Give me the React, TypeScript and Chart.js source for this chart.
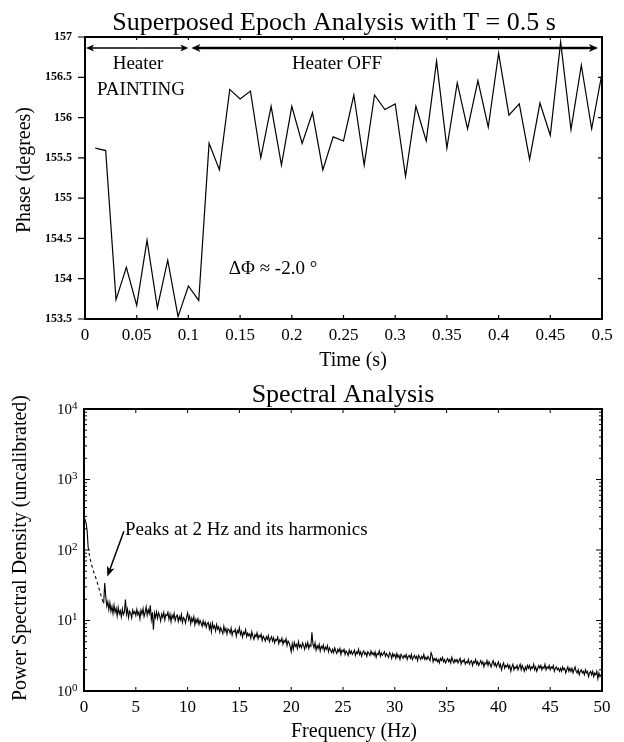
import React, { useEffect, useRef } from "react";
import { Chart, registerables } from "chart.js";

Chart.register(...registerables);

const FONT = "'Liberation Serif', 'Times New Roman', Times, serif";

// ---------- Top chart: superposed epoch analysis ----------
const TIME_S = [
  0.01, 0.02, 0.03, 0.04, 0.05, 0.06, 0.07, 0.08, 0.09, 0.1,
  0.11, 0.12, 0.13, 0.14, 0.15, 0.16, 0.17, 0.18, 0.19, 0.2,
  0.21, 0.22, 0.23, 0.24, 0.25, 0.26, 0.27, 0.28, 0.29, 0.3,
  0.31, 0.32, 0.33, 0.34, 0.35, 0.36, 0.37, 0.38, 0.39, 0.4,
  0.41, 0.42, 0.43, 0.44, 0.45, 0.46, 0.47, 0.48, 0.49, 0.5,
];
const PHASE_DEG = [
  155.62, 155.59, 153.74, 154.14, 153.67, 154.48, 153.64, 154.23, 153.53, 153.91,
  153.73, 155.68, 155.35, 156.35, 156.23, 156.33, 155.5, 156.14, 155.41, 156.14,
  155.68, 156.06, 155.35, 155.76, 155.71, 156.28, 155.41, 156.28, 156.1, 156.17,
  155.27, 156.14, 155.71, 156.7, 155.62, 156.43, 155.86, 156.46, 155.88, 156.8,
  156.03, 156.17, 155.48, 156.18, 155.78, 156.94, 155.85, 156.65, 155.86, 156.55,
];
const TIME_TICKS = [0, 0.05, 0.1, 0.15, 0.2, 0.25, 0.3, 0.35, 0.4, 0.45, 0.5];
const TIME_TICK_LABELS = ["0", "0.05", "0.1", "0.15", "0.2", "0.25", "0.3", "0.35", "0.4", "0.45", "0.5"];
const PHASE_TICKS = [153.5, 154, 154.5, 155, 155.5, 156, 156.5, 157];
const PHASE_TICK_LABELS = ["153.5", "154", "154.5", "155", "155.5", "156", "156.5", "157"];
const HEATER_ON_END_S = 0.1;

// ---------- Bottom chart: spectral analysis (0.1 Hz bins, 0 to 50 Hz) ----------
const FREQ_STEP_HZ = 0.1;
const PSD = [
  280, 270, 240, 190, 110, 88, 74, 64, 57, 51,
  46, 42, 38, 34, 30, 27, 24, 21, 19, 17.5,
  34, 22, 16, 18.5, 14.2, 17.8, 13.5, 15.9, 12.6, 16.4,
  13.1, 14.9, 11.6, 15.3, 12.4, 13.8, 11.2, 14.6, 12.1, 13.3,
  19.8, 12.2, 14.5, 11.0, 13.6, 12.8, 10.9, 14.1, 12.5, 13.4,
  11.8, 14.4, 12.0, 13.2, 10.6, 13.9, 12.3, 14.8, 11.4, 13.0,
  15.6, 11.9, 14.2, 12.5, 16.4, 10.3, 13.1, 7.4, 12.8, 11.0,
  13.3, 10.7, 12.9, 11.6, 9.8, 12.4, 11.1, 13.0, 10.2, 12.1,
  11.7, 13.1, 10.4, 12.3, 9.6, 11.9, 10.8, 12.6, 10.0, 11.4,
  12.0, 9.7, 11.3, 10.1, 12.2, 9.4, 11.0, 10.5, 9.2, 11.1,
  12.8, 10.2, 11.5, 9.0, 10.8, 9.7, 11.3, 8.7, 10.4, 9.3,
  10.6, 8.8, 10.0, 9.2, 8.3, 9.9, 8.6, 9.5, 8.0, 9.1,
  9.4, 7.6, 8.9, 6.9, 9.2, 7.8, 8.4, 7.1, 8.8, 7.5,
  8.1, 6.8, 7.9, 7.2, 6.5, 8.3, 7.0, 7.7, 6.4, 7.6,
  7.3, 6.6, 7.8, 6.2, 7.1, 6.9, 7.5, 6.0, 7.2, 6.7,
  7.9, 6.3, 7.0, 5.8, 6.8, 6.4, 7.4, 5.9, 6.6, 6.1,
  6.5, 5.6, 6.9, 6.0, 5.4, 6.3, 5.9, 6.7, 5.5, 6.2,
  5.8, 6.4, 5.2, 6.0, 5.6, 5.1, 5.9, 5.4, 6.1, 5.0,
  5.5, 5.9, 5.1, 5.7, 4.8, 5.4, 5.2, 5.8, 4.7, 5.3,
  5.0, 5.6, 4.6, 5.2, 4.9, 5.5, 4.4, 5.1, 4.8, 4.3,
  3.6, 4.7, 3.9, 4.9, 4.3, 4.6, 4.0, 5.0, 4.2, 4.5,
  4.1, 4.8, 4.4, 3.9, 4.7, 4.2, 4.9, 4.0, 4.5, 4.3,
  6.8, 4.6, 4.1, 4.8, 3.8, 4.4, 4.0, 4.6, 3.7, 4.3,
  4.0, 4.5, 3.7, 4.2, 3.9, 4.4, 3.6, 4.1, 3.8, 3.5,
  3.9, 3.5, 4.1, 3.7, 3.4, 3.9, 3.6, 4.0, 3.3, 3.8,
  3.6, 3.9, 3.3, 3.7, 3.5, 3.2, 3.8, 3.4, 3.7, 3.3,
  3.5, 3.8, 3.2, 3.6, 3.4, 3.9, 3.3, 3.6, 3.1, 3.5,
  3.7, 3.3, 3.5, 3.1, 3.6, 3.4, 3.2, 3.7, 3.3, 3.5,
  3.2, 3.6, 3.0, 3.4, 3.3, 3.7, 3.1, 3.5, 3.2, 3.4,
  3.6, 3.1, 3.4, 3.2, 3.0, 3.5, 3.3, 2.9, 3.4, 3.1,
  3.3, 2.9, 3.4, 3.0, 3.2, 2.8, 3.3, 3.1, 2.9, 3.2,
  3.0, 3.3, 2.8, 3.1, 3.2, 2.9, 3.3, 2.8, 3.0, 3.2,
  2.9, 3.1, 2.7, 3.2, 3.0, 2.8, 3.1, 2.9, 3.3, 2.8,
  3.0, 2.8, 3.1, 2.9, 2.7, 3.5, 3.2, 2.6, 2.9, 2.7,
  2.9, 2.6, 2.8, 2.5, 2.9, 2.7, 3.0, 2.6, 2.8, 2.5,
  2.7, 2.9, 2.6, 2.8, 2.5, 3.0, 2.7, 2.5, 2.8, 2.6,
  2.8, 2.5, 2.7, 2.9, 2.4, 2.7, 2.6, 2.8, 2.4, 2.6,
  2.5, 2.8, 2.4, 2.6, 2.7, 2.3, 2.6, 2.5, 2.8, 2.4,
  2.6, 2.3, 2.5, 2.7, 2.4, 2.6, 2.2, 2.5, 2.4, 2.7,
  2.3, 2.6, 2.4, 2.2, 2.5, 2.7, 2.3, 2.5, 2.2, 2.4,
  2.6, 2.2, 2.4, 2.0, 2.3, 2.5, 2.1, 2.3, 2.2, 2.4,
  2.1, 2.3, 1.9, 2.2, 2.4, 2.0, 2.2, 2.1, 2.3, 2.0,
  2.2, 2.4, 2.0, 2.3, 2.1, 1.9, 2.2, 2.0, 2.3, 2.1,
  2.3, 2.0, 2.2, 2.1, 2.4, 2.0, 2.2, 1.9, 2.1, 2.3,
  2.1, 2.3, 2.0, 2.2, 2.1, 2.4, 2.0, 2.2, 2.1, 2.3,
  2.0, 2.2, 2.1, 2.3, 1.9, 2.1, 2.2, 2.0, 2.1, 1.9,
  2.1, 1.9, 2.2, 2.0, 2.1, 1.8, 2.0, 2.2, 1.9, 2.1,
  1.9, 2.1, 1.8, 2.0, 2.2, 1.9, 1.8, 2.0, 1.7, 1.9,
  2.0, 1.8, 1.9, 1.7, 2.0, 1.8, 1.9, 1.6, 1.8, 1.9,
  1.7, 1.9, 1.6, 1.8, 1.7, 1.9, 1.5, 1.8, 1.6, 1.7,
  1.75,
];
const FREQ_TICKS = [0, 5, 10, 15, 20, 25, 30, 35, 40, 45, 50];
const FREQ_TICK_LABELS = ["0", "5", "10", "15", "20", "25", "30", "35", "40", "45", "50"];
const PSD_DECADES = [1, 10, 100, 1000, 10000];
const PSD_EXPONENTS = ["0", "1", "2", "3", "4"];
const LOG_MINOR = [2, 3, 4, 5, 6, 7, 8, 9];

// ---------- drawing helpers ----------
function drawText(ctx: CanvasRenderingContext2D, s: string, x: number, y: number, size: number, align: CanvasTextAlign = "center", weight = "normal") {
  ctx.font = `${weight} ${size}px ${FONT}`;
  ctx.textAlign = align;
  ctx.textBaseline = "alphabetic";
  ctx.fillText(s, x, y);
}

function arrow(ctx: CanvasRenderingContext2D, x1: number, y1: number, x2: number, y2: number, lw: number, headLen: number, headHalf: number) {
  const ang = Math.atan2(y2 - y1, x2 - x1);
  ctx.lineWidth = lw;
  ctx.beginPath();
  ctx.moveTo(x1, y1);
  ctx.lineTo(x2 - Math.cos(ang) * headLen * 0.7, y2 - Math.sin(ang) * headLen * 0.7);
  ctx.stroke();
  ctx.save();
  ctx.translate(x2, y2);
  ctx.rotate(ang);
  ctx.beginPath();
  ctx.moveTo(0, 0);
  ctx.lineTo(-headLen, -headHalf);
  ctx.lineTo(-headLen * 0.75, 0);
  ctx.lineTo(-headLen, headHalf);
  ctx.closePath();
  ctx.fill();
  ctx.restore();
}

function rotatedText(ctx: CanvasRenderingContext2D, s: string, cx: number, cy: number, size: number) {
  ctx.save();
  ctx.translate(cx, cy);
  ctx.rotate(-Math.PI / 2);
  ctx.font = `normal ${size}px ${FONT}`;
  ctx.textAlign = "center";
  ctx.textBaseline = "middle";
  ctx.fillText(s, 0, 0);
  ctx.restore();
}

const topPlugin = {
  id: "topDecor",
  afterDraw(chart: any) {
    const { ctx, chartArea: a, scales } = chart;
    const xs = scales.x, ys = scales.y;
    ctx.save();
    ctx.strokeStyle = "#000";
    ctx.fillStyle = "#000";
    ctx.lineWidth = 2;
    ctx.strokeRect(a.left, a.top, a.right - a.left, a.bottom - a.top);
    ctx.lineWidth = 1.2;
    ctx.beginPath();
    for (const v of PHASE_TICKS) {
      const py = ys.getPixelForValue(v);
      ctx.moveTo(a.left - 7, py); ctx.lineTo(a.left, py);
      ctx.moveTo(a.right - 4, py); ctx.lineTo(a.right, py);
    }
    for (const v of TIME_TICKS) {
      const px = xs.getPixelForValue(v);
      ctx.moveTo(px, a.bottom); ctx.lineTo(px, a.bottom - 4);
      ctx.moveTo(px, a.top); ctx.lineTo(px, a.top + 3);
    }
    ctx.stroke();
    const ay = a.top + 11;
    const x0 = xs.getPixelForValue(0) + 1;
    const xm = xs.getPixelForValue(HEATER_ON_END_S);
    const x1 = xs.getPixelForValue(0.5) - 4;
    const m1 = (x0 + xm) / 2;
    arrow(ctx, m1, ay, x0, ay, 1.5, 8, 3.5);
    arrow(ctx, m1, ay, xm, ay, 1.5, 8, 3.5);
    const m2 = (xm + 3 + x1) / 2;
    arrow(ctx, m2, ay, xm + 3, ay, 2.5, 9, 4);
    arrow(ctx, m2, ay, x1, ay, 2.5, 9, 4);
    drawText(ctx, "Superposed Epoch Analysis with T = 0.5 s", 334, 30, 26);
    drawText(ctx, "Heater", 138, 69, 19);
    drawText(ctx, "PAINTING", 141, 95, 19);
    drawText(ctx, "Heater OFF", 337, 69, 19);
    drawText(ctx, "\u0394\u03A6 \u2248 -2.0 \u00B0", 273, 274, 19);
    drawText(ctx, "Time (s)", 353, 366, 20);
    rotatedText(ctx, "Phase (degrees)", 25, 170, 20);
    ctx.restore();
  },
};

const bottomPlugin = {
  id: "bottomDecor",
  afterDraw(chart: any) {
    const { ctx, chartArea: a, scales } = chart;
    const xs = scales.x, ys = scales.y;
    ctx.save();
    ctx.strokeStyle = "#000";
    ctx.fillStyle = "#000";
    ctx.lineWidth = 2;
    ctx.strokeRect(a.left, a.top, a.right - a.left, a.bottom - a.top);
    ctx.lineWidth = 1;
    ctx.beginPath();
    for (let i = 0; i < PSD_DECADES.length; i++) {
      const d = PSD_DECADES[i];
      const py = ys.getPixelForValue(d);
      ctx.moveTo(a.left, py); ctx.lineTo(a.left + 6, py);
      ctx.moveTo(a.right - 6, py); ctx.lineTo(a.right, py);
      if (i < PSD_DECADES.length - 1) {
        for (const m of LOG_MINOR) {
          const my = ys.getPixelForValue(m * d);
          ctx.moveTo(a.left, my); ctx.lineTo(a.left + 3, my);
          ctx.moveTo(a.right - 3, my); ctx.lineTo(a.right, my);
        }
      }
    }
    for (const v of FREQ_TICKS) {
      const px = xs.getPixelForValue(v);
      ctx.moveTo(px, a.bottom); ctx.lineTo(px, a.bottom - 4);
      ctx.moveTo(px, a.top); ctx.lineTo(px, a.top + 4);
    }
    ctx.stroke();
    for (let i = 0; i < PSD_DECADES.length; i++) {
      const py = ys.getPixelForValue(PSD_DECADES[i]);
      ctx.font = `normal 15px ${FONT}`;
      ctx.textAlign = "right";
      ctx.textBaseline = "middle";
      ctx.fillText("10", a.left - 12, py + 1);
      ctx.font = `normal 11px ${FONT}`;
      ctx.textAlign = "left";
      ctx.fillText(PSD_EXPONENTS[i], a.left - 12, py - 3);
    }
    const tx = xs.getPixelForValue(3.95);
    const ty = ys.getPixelForValue(165);
    drawText(ctx, "Peaks at 2 Hz and its harmonics", tx, ty, 19, "left");
    arrow(ctx, xs.getPixelForValue(3.85), ys.getPixelForValue(185), xs.getPixelForValue(2.25), ys.getPixelForValue(42), 1.5, 10, 4);
    drawText(ctx, "Spectral Analysis", 343, 26.7, 26);
    drawText(ctx, "Frequency (Hz)", 354, 362, 20);
    rotatedText(ctx, "Power Spectral Density (uncalibrated)", 21, 173, 20);
    ctx.restore();
  },
};

function TopChart() {
  const ref = useRef<HTMLCanvasElement | null>(null);
  useEffect(() => {
    if (!ref.current) return;
    const chart = new Chart(ref.current, {
      type: "line",
      data: {
        datasets: [
          {
            data: TIME_S.map((t, i) => ({ x: t, y: PHASE_DEG[i] })),
            borderColor: "#000",
            borderWidth: 1.2,
            pointRadius: 0,
            tension: 0,
            fill: false,
          },
        ],
      },
      options: {
        animation: false,
        responsive: false,
        devicePixelRatio: 1,
        layout: { padding: { top: 37, right: 22, left: 0, bottom: 0 } },
        plugins: { legend: { display: false }, tooltip: { enabled: false }, title: { display: false } },
        scales: {
          x: {
            type: "linear",
            min: 0,
            max: 0.5,
            afterFit: (s: any) => { s.height = 56; },
            afterBuildTicks: (s: any) => { s.ticks = TIME_TICKS.map((v) => ({ value: v })); },
            ticks: {
              callback: (_v: any, i: number) => TIME_TICK_LABELS[i],
              font: { family: FONT, size: 17 },
              color: "#000",
              padding: 6,
              maxRotation: 0,
              autoSkip: false,
            },
            grid: { display: false, drawTicks: false },
            border: { display: false },
          },
          y: {
            type: "linear",
            min: 153.5,
            max: 157,
            afterFit: (s: any) => { s.width = 85; },
            afterBuildTicks: (s: any) => { s.ticks = PHASE_TICKS.map((v) => ({ value: v })); },
            ticks: {
              callback: (_v: any, i: number) => PHASE_TICK_LABELS[i],
              font: { family: FONT, size: 12, weight: "bold" },
              color: "#000",
              padding: 13,
              autoSkip: false,
            },
            grid: { display: false, drawTicks: false },
            border: { display: false },
          },
        },
      } as any,
      plugins: [topPlugin],
    });
    return () => chart.destroy();
  }, []);
  return <canvas ref={ref} width={624} height={375} style={{ display: "block", position: "absolute", left: 0, top: 0 }} />;
}

function BottomChart() {
  const ref = useRef<HTMLCanvasElement | null>(null);
  useEffect(() => {
    if (!ref.current) return;
    const chart = new Chart(ref.current, {
      type: "line",
      data: {
        datasets: [
          {
            data: PSD.map((v, i) => ({ x: i * FREQ_STEP_HZ, y: v })),
            borderColor: "#000",
            borderWidth: 1.1,
            pointRadius: 0,
            tension: 0,
            fill: false,
            segment: {
              borderDash: (c: any) => (c.p0.parsed.x >= 0.39 && c.p1.parsed.x <= 1.91 ? [3, 3] : undefined),
            },
          },
        ],
      },
      options: {
        animation: false,
        responsive: false,
        devicePixelRatio: 1,
        layout: { padding: { top: 34, right: 22, left: 0, bottom: 0 } },
        plugins: { legend: { display: false }, tooltip: { enabled: false }, title: { display: false } },
        scales: {
          x: {
            type: "linear",
            min: 0,
            max: 50,
            afterFit: (s: any) => { s.height = 51; },
            afterBuildTicks: (s: any) => { s.ticks = FREQ_TICKS.map((v) => ({ value: v })); },
            ticks: {
              callback: (_v: any, i: number) => FREQ_TICK_LABELS[i],
              font: { family: FONT, size: 17 },
              color: "#000",
              padding: 6,
              maxRotation: 0,
              autoSkip: false,
            },
            grid: { display: false, drawTicks: false },
            border: { display: false },
          },
          y: {
            type: "logarithmic",
            min: 1,
            max: 10000,
            afterFit: (s: any) => { s.width = 84; },
            ticks: { display: false },
            grid: { display: false, drawTicks: false },
            border: { display: false },
          },
        },
      } as any,
      plugins: [bottomPlugin],
    });
    return () => chart.destroy();
  }, []);
  return <canvas ref={ref} width={624} height={367} style={{ display: "block", position: "absolute", left: 0, top: 375 }} />;
}

export default function App() {
  return (
    <div style={{ position: "absolute", left: 0, top: 0, width: 624, height: 742, background: "#fff", overflow: "hidden" }}>
      <TopChart />
      <BottomChart />
    </div>
  );
}
